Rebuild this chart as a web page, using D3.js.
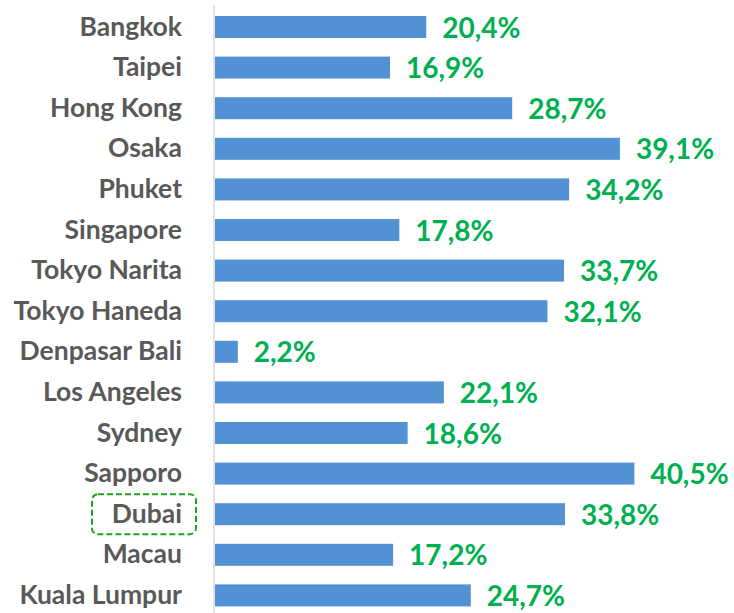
<!DOCTYPE html>
<html><head><meta charset="utf-8">
<script src="https://cdn.jsdelivr.net/npm/d3@7"></script>
<style>body{margin:0;background:#fff}svg{display:block}</style>
</head><body>
<svg id="c" width="734" height="613"></svg>
<script>
const categories = ["Bangkok","Taipei","Hong Kong","Osaka","Phuket","Singapore","Tokyo Narita","Tokyo Haneda","Denpasar Bali","Los Angeles","Sydney","Sapporo","Dubai","Macau","Kuala Lumpur"];
const values = [20.4,16.9,28.7,39.1,34.2,17.8,33.7,32.1,2.2,22.1,18.6,40.5,33.8,17.2,24.7];
const highlighted = ["Dubai"];

const svg = d3.select("#c");
const x = d3.scaleLinear().domain([0,45]).range([215,681]);
const y = d3.scaleBand().domain(categories).range([6.7,615.7]).paddingInner(0.458).paddingOuter(0.229);

// axis line
svg.append("line").attr("x1",214).attr("x2",214).attr("y1",5).attr("y2",613)
  .attr("stroke","#d9d9d9").attr("stroke-width",1.5);

svg.selectAll("rect.bar").data(categories).join("rect").attr("class","bar")
  .attr("x",x(0)).attr("y",d=>y(d)).attr("height",y.bandwidth())
  .attr("width",(d,i)=>x(values[i])-x(0)).attr("fill","#5291d3");

svg.selectAll("text.val").data(categories).join("text").attr("class","val")
  .attr("x",(d,i)=>x(values[i])+16).attr("y",d=>y(d)+y.bandwidth()/2+10.5)
  .attr("font-family","Lato, 'Open Sans', sans-serif").attr("font-weight","bold")
  .attr("font-size",28).attr("fill","#00b050")
  .text((d,i)=>values[i].toFixed(1).replace(".",",")+"%");

svg.selectAll("text.cat").data(categories).join("text").attr("class","cat")
  .attr("x",182).attr("y",d=>y(d)+y.bandwidth()/2+8.5).attr("text-anchor","end")
  .attr("font-family","Lato, 'Open Sans', sans-serif").attr("font-weight","bold")
  .attr("font-size",26.5).attr("fill","#595959").text(d=>d);

// highlight box
highlighted.forEach(h=>{
  const cy = y(h)+y.bandwidth()/2;
  svg.append("rect").attr("x",92).attr("y",cy-20).attr("width",104).attr("height",40)
    .attr("rx",6).attr("ry",6).attr("fill","none").attr("stroke","#1fa21f")
    .attr("stroke-width",2).attr("stroke-dasharray","6,3");
});
</script>
</body></html>
